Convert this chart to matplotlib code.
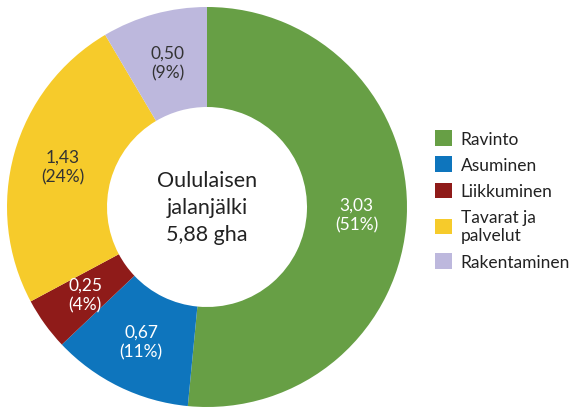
import numpy as np
import matplotlib
matplotlib.use("Agg")
import matplotlib.pyplot as plt

plt.rcParams['font.family'] = ['Lato', 'DejaVu Sans']

# Data
kategoriat = ["Ravinto", "Asuminen", "Liikkuminen", "Tavarat ja\npalvelut", "Rakentaminen"]
arvot = [3.03, 0.67, 0.25, 1.43, 0.50]
prosentit = [51, 11, 4, 24, 9]
varit = ["#679F45", "#0E75BD", "#8F1B19", "#F6CB2B", "#BDB8DD"]
tekstivarit = ["white", "white", "white", "#333333", "#333333"]
yhteensa = "5,88"

fig = plt.figure(figsize=(5.75, 4.10), dpi=100)
ax = fig.add_axes([7 / 575, 2 / 410, 400 / 575, 400 / 410])

wedges, _ = ax.pie(arvot, colors=varit, startangle=90, counterclock=False,
                   radius=1.0, wedgeprops=dict(width=0.5, linewidth=0))
ax.set_xlim(-1, 1)
ax.set_ylim(-1, 1)
ax.set_aspect('equal')

for w, v, p, c in zip(wedges, arvot, prosentit, tekstivarit):
    ang = np.deg2rad((w.theta1 + w.theta2) / 2)
    r = 0.75
    ax.text(r * np.cos(ang), r * np.sin(ang), f"{v:.2f}".replace(".", ",") + f"\n({p}%)",
            ha='center', va='center', fontsize=12.5, color=c, linespacing=1.3)

ax.text(0, 0, f"Oululaisen\njalanjälki\n{yhteensa} gha", ha='center', va='center',
        fontsize=15.5, color="#222222", linespacing=1.45)

fig.legend(wedges, kategoriat, loc='center left', bbox_to_anchor=(419 / 575, 0.51),
           frameon=False, fontsize=12.5, handlelength=1.0, handleheight=1.0,
           handletextpad=0.5, labelspacing=0.55, labelcolor="#222222")

fig.savefig("out.png", dpi=100)
